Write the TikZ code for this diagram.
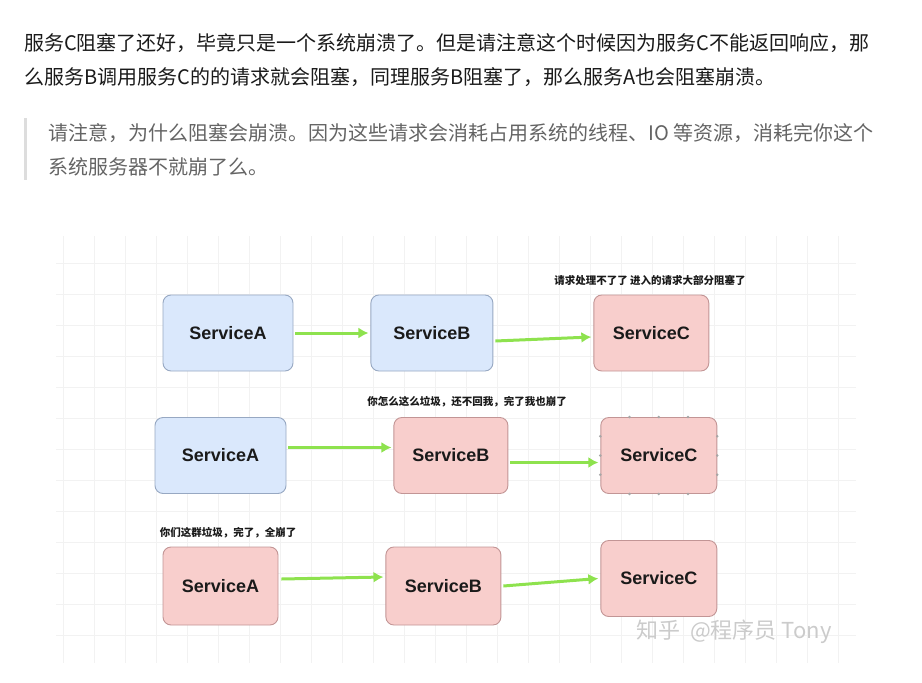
\documentclass[tikz,border=0pt]{standalone}
\usepackage{fontspec}
\setmainfont{Noto Sans CJK SC}
\newfontfamily\boxfont{Liberation Sans}
\usepackage{xcolor}
\usetikzlibrary{shapes, arrows.meta, positioning, calc}
\definecolor{bodytext}{HTML}{1A1A1A}
\definecolor{quotetext}{HTML}{646464}
\definecolor{quotebar}{HTML}{DDDDDD}
\definecolor{gridgray}{HTML}{F2F2F2}
\definecolor{okfill}{HTML}{DAE8FC}
\definecolor{okdraw}{HTML}{97A8C2}
\definecolor{badfill}{HTML}{F8CECC}
\definecolor{baddraw}{HTML}{C29595}
\definecolor{callgreen}{HTML}{8EE24E}
\definecolor{markgray}{HTML}{CBCBCB}

\begin{document}
\begin{tikzpicture}[x=1pt, y=-1pt,
    para/.style={anchor=base west, inner sep=0, text=bodytext, font=\fontsize{20}{34}\selectfont},
    quote/.style={para, text=quotetext},
    box/.style={rectangle, draw, line width=0.9pt, rounded corners=8pt, inner sep=0,
                minimum height=76pt, text=bodytext, font=\boxfont\bfseries\fontsize{18}{20}\selectfont},
    okbox/.style={box, draw=okdraw, fill=okfill},
    badbox/.style={box, draw=baddraw, fill=badfill},
    note/.style={inner sep=0, text=bodytext, font=\bfseries\fontsize{10.5}{12}\selectfont},
    line/.style={draw=callgreen, line width=3pt, -{Latex[length=10pt, width=11pt]}},
    handle/.style={fill=gray!70}]

    \useasboundingbox (0,0) rectangle (922,683);

    % article text
    \node [para] (p1) at (24,50) {服务C阻塞了还好，毕竟只是一个系统崩溃了。但是请注意这个时候因为服务C不能返回响应，那};
    \node [para] (p2) at (24,84) {么服务B调用服务C的的请求就会阻塞，同理服务B阻塞了，那么服务A也会阻塞崩溃。};
    \fill [quotebar] (24,118) rectangle (27,180);
    \node [quote] (q1) at (48,140) {请注意，为什么阻塞会崩溃。因为这些请求会消耗占用系统的线程、IO 等资源，消耗完你这个};
    \node [quote] (q2) at (48,174) {系统服务器不就崩了么。};

    % grid background of the figure
    \begin{scope}
        \clip (56,236) rectangle (856,663);
        \foreach \gx in {0,...,25}
            \draw [gridgray, line width=1pt] (63+31*\gx,236) -- (63+31*\gx,663);
        \foreach \gy in {0,...,12}
            \draw [gridgray, line width=1pt] (56,263+31*\gy) -- (856,263+31*\gy);
    \end{scope}

    % row 1
    \node [okbox, minimum width=130pt] (a1) at (228,333) {ServiceA};
    \node [okbox, minimum width=122pt, right=77pt of a1] (b1) {ServiceB};
    \node [badbox, minimum width=115pt, right=100pt of b1] (c1) {ServiceC};
    \node [note] (n1) at (650,280) {请求处理不了了 进入的请求大部分阻塞了};

    % row 2
    \node [okbox, minimum width=131pt] (a2) at (220.5,455.5) {ServiceA};
    \node [badbox, minimum width=114pt, right=107pt of a2] (b2) {ServiceB};
    \node [badbox, minimum width=116pt, right=92pt of b2] (c2) {ServiceC};
    \node [note] (n2) at (467,402) {你怎么这么垃圾，还不回我，完了我也崩了};

    % row 3
    \node [badbox, minimum width=115pt, minimum height=78pt] (a3) at (220.5,586) {ServiceA};
    \node [badbox, minimum width=115pt, minimum height=78pt, right=107pt of a3] (b3) {ServiceB};
    \node [badbox, minimum width=116pt, right=99pt of b3, yshift=7.5pt] (c3) {ServiceC};
    \node [note] (n3) at (228,533) {你们这群垃圾，完了，全崩了};

    % selected box handles
    \foreach \f in {0.25,0.5,0.75} {
        \fill [handle] ($(c2.north west)!\f!(c2.north east)$) circle (1.4pt);
        \fill [handle] ($(c2.south west)!\f!(c2.south east)$) circle (1.4pt);
        \fill [handle] ($(c2.north west)!\f!(c2.south west)$) circle (1.4pt);
        \fill [handle] ($(c2.north east)!\f!(c2.south east)$) circle (1.4pt);
    }

    % calls
    \path [line] ([xshift=2pt]a1.east) -- ([xshift=-2pt]b1.west);
    \path [line] ([xshift=2pt, yshift=-8pt]b1.east) -- ([xshift=-2pt, yshift=-4pt]c1.west);
    \path [line] ([xshift=2pt, yshift=8pt]a2.east) -- ([xshift=-2pt, yshift=8pt]b2.west);
    \path [line] ([xshift=2pt, yshift=-7pt]b2.east) -- ([xshift=-2pt, yshift=-7pt]c2.west);
    \path [line] ([xshift=3pt, yshift=7pt]a3.east) -- ([xshift=-2pt, yshift=9pt]b3.west);
    \path [line] ([xshift=2pt]b3.east) -- ([xshift=-2pt]c3.west);

    % watermark
    \node [inner sep=0, text=markgray, font=\fontsize{22}{24}\selectfont] (wm) at (734,632) {知乎\ \ @程序员\ Tony};

\end{tikzpicture}
\end{document}
